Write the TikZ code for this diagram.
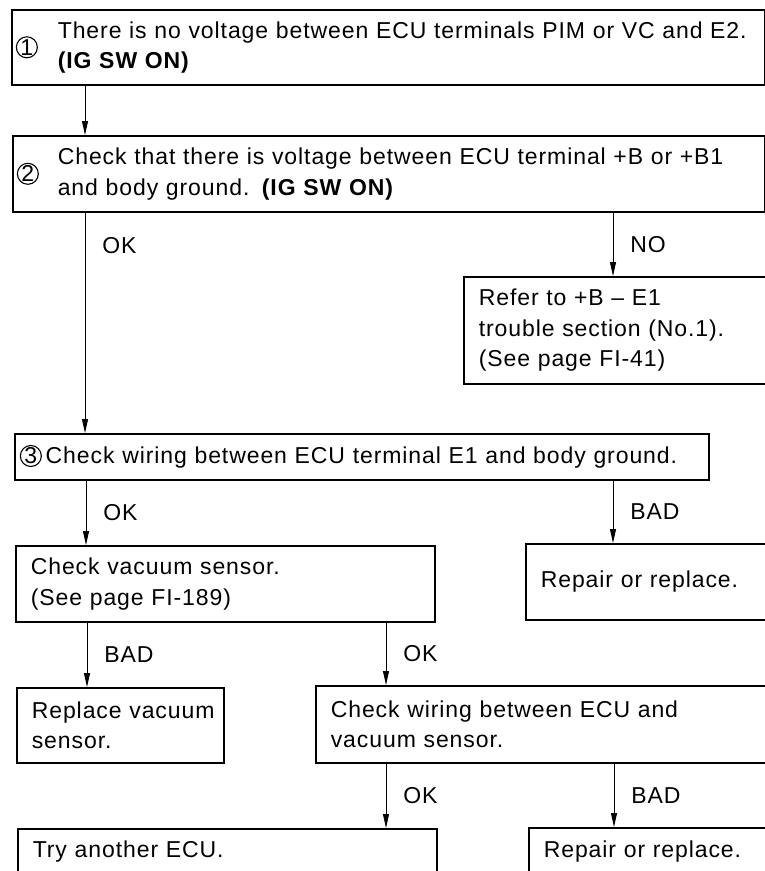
\documentclass[tikz,border=0pt]{standalone}
\usepackage{fontspec}
\setmainfont[WordSpace=2.2,LetterSpace=4]{Liberation Sans}
\usetikzlibrary{arrows.meta}
\newcommand{\circnum}[1]{\tikz[baseline=(cn.base)]\node[draw, circle, line width=1.1pt, inner sep=0pt, minimum size=21pt] (cn) {#1};}

\begin{document}
\begin{tikzpicture}[x=1pt,y=-1pt,font=\fontsize{23}{30.5}\selectfont,>={Triangle[length=14pt,width=6pt]}]
\tikzset{box/.style={draw, line width=1.6pt, anchor=north west, align=left, inner xsep=15pt, inner ysep=0pt}, arr/.style={->, line width=.9pt}, lbl/.style={anchor=west, inner sep=0pt, xshift=17pt}}
\useasboundingbox (0,0) rectangle (765,871);
\clip (0,0) rectangle (765,871);
% steps
\node[box, inner xsep=4pt, text width=745pt, minimum height=75pt] (step1) at (11,9) {\parbox[c]{42pt}{\circnum{1}}\parbox[c]{720pt}{There is no voltage between ECU terminals PIM or VC and E2.\\\textbf{(IG SW ON)}}};
\node[box, inner xsep=4pt, text width=744pt, minimum height=76pt] (step2) at (12,135) {\parbox[c]{41pt}{\circnum{2}}\parbox[c]{720pt}{Check that there is voltage between ECU terminal +B or +B1\\and body ground. \textbf{(IG SW ON)}}};
\node[box, minimum height=107pt, text width=272pt] (refer) at (463,276) {Refer to +B – E1\\trouble section (No.1).\\(See page FI-41)};
\node[box, inner xsep=5pt, text width=684pt, minimum height=46pt] (step3) at (14,433) {\circnum{3}\,Check wiring between ECU terminal E1 and body ground.};
\node[box, minimum height=76pt, text width=389pt] (vac) at (15,545) {Check vacuum sensor.\\(See page FI-189)};
\node[box, minimum height=76pt, text width=230pt] (repair1) at (525,543) {Repair or replace.};
\node[box, minimum height=75pt, text width=177pt] (replace) at (16,687) {\mbox{Replace vacuum}\\sensor.};
\node[box, minimum height=77pt, text width=440pt] (wiring) at (315,685) {Check wiring between ECU and\\vacuum sensor.};
\node[box, minimum height=46pt, text width=389pt] (ecu) at (17,828) {Try another ECU.};
\node[box, minimum height=48pt, text width=230pt] (repair2) at (528,827) {Repair or replace.};
% connectors
\draw[arr] ([xshift=74pt]step1.south west) -- ([xshift=74pt]step1.south west |- step2.north);
\draw[arr] ([xshift=73pt]step2.south west) -- node[lbl, pos=.15] (ok1) {OK} ([xshift=73pt]step2.south west |- step3.north);
\draw[arr] ([xshift=150pt]refer.north west |- step2.south) -- node[lbl] (no1) {NO} ([xshift=150pt]refer.north west);
\draw[arr] ([xshift=72pt]step3.south west) -- node[lbl] (ok2) {OK} ([xshift=72pt]step3.south west |- vac.north);
\draw[arr] ([xshift=88pt]repair1.north west |- step3.south) -- node[lbl] (bad1) {BAD} ([xshift=88pt]repair1.north west);
\draw[arr] ([xshift=71pt]replace.north west |- vac.south) -- node[lbl] (bad2) {BAD} ([xshift=71pt]replace.north west);
\draw[arr] ([xshift=71pt]wiring.north west |- vac.south) -- node[lbl] (ok3) {OK} ([xshift=71pt]wiring.north west);
\draw[arr] ([xshift=71pt]wiring.south west) -- node[lbl] (ok4) {OK} ([xshift=71pt]wiring.south west |- ecu.north);
\draw[arr] ([xshift=86pt]repair2.north west |- wiring.south) -- node[lbl] (bad3) {BAD} ([xshift=86pt]repair2.north west);
\end{tikzpicture}
\end{document}
